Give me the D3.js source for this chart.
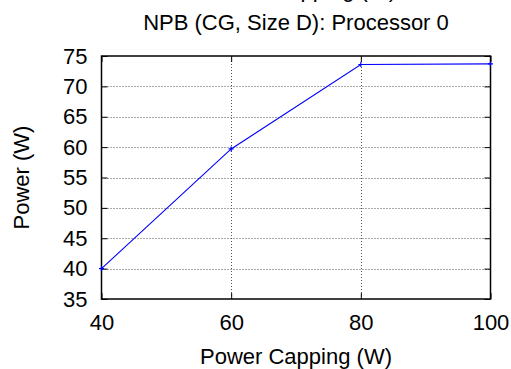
<!DOCTYPE html>
<html>
<head>
<meta charset="utf-8">
<script src="https://cdn.jsdelivr.net/npm/d3@7"></script>
<style>
  html, body { margin: 0; padding: 0; background: #fff; }
  svg { display: block; font-family: "Liberation Sans", Arial, Helvetica, sans-serif; }
</style>
</head>
<body>
<svg id="chart" width="511" height="369"></svg>
<script>
// Power draw of processor 0 under different power caps
const capValues = [40, 60, 80, 100];
const powerValues = [40.0, 59.7, 73.6, 73.7];
const xTicks = [40, 60, 80, 100];
const yTicks = [35, 40, 45, 50, 55, 60, 65, 70, 75];

const svg = d3.select("#chart");
const margin = { left: 101.5, right: 20.5, top: 56, bottom: 70 };
const W = 511, H = 369;
const FS = 22;

const x = d3.scaleLinear().domain([40, 100]).range([margin.left, W - margin.right]);
const y = d3.scaleLinear().domain([35, 75]).range([H - margin.bottom, margin.top]);

// Dotted grid
const grid = svg.append("g").attr("stroke", "#555").attr("stroke-width", 1)
  .attr("stroke-dasharray", "1,2");
grid.selectAll("line.gx").data(xTicks.slice(1, -1)).join("line")
  .attr("x1", d => Math.round(x(d)) + 0.5).attr("x2", d => Math.round(x(d)) + 0.5)
  .attr("y1", y(35)).attr("y2", y(75));
grid.selectAll("line.gy").data(yTicks.slice(1, -1)).join("line")
  .attr("y1", d => Math.round(y(d)) + 0.5).attr("y2", d => Math.round(y(d)) + 0.5)
  .attr("x1", x(40)).attr("x2", x(100));

// Axes with inward ticks, mirrored on the opposite sides
const tickLen = 6;
svg.append("g").attr("transform", `translate(0,${y(35)})`)
  .call(d3.axisBottom(x).tickValues(xTicks).tickSizeInner(-tickLen).tickSizeOuter(0).tickPadding(15))
  .call(g => g.select(".domain").remove());
svg.append("g").attr("transform", `translate(0,${y(75)})`)
  .call(d3.axisTop(x).tickValues(xTicks).tickSizeInner(-tickLen).tickSizeOuter(0).tickFormat(""))
  .call(g => g.select(".domain").remove());
svg.append("g").attr("transform", `translate(${x(40)},0)`)
  .call(d3.axisLeft(y).tickValues(yTicks).tickSizeInner(-tickLen).tickSizeOuter(0).tickPadding(14))
  .call(g => g.select(".domain").remove());
svg.append("g").attr("transform", `translate(${x(100)},0)`)
  .call(d3.axisRight(y).tickValues(yTicks).tickSizeInner(-tickLen).tickSizeOuter(0).tickFormat(""))
  .call(g => g.select(".domain").remove());

svg.selectAll(".tick text").attr("font-size", FS).attr("fill", "#000")
  .attr("font-family", "Liberation Sans, Arial, sans-serif");
svg.selectAll(".tick line").attr("stroke", "#000");

// Border
svg.append("rect")
  .attr("x", x(40)).attr("y", y(75))
  .attr("width", x(100) - x(40)).attr("height", y(35) - y(75))
  .attr("fill", "none").attr("stroke", "#000").attr("stroke-width", 1.5);

// Data line and points
const pts = capValues.map((c, i) => [c, powerValues[i]]);
svg.append("path")
  .datum(pts)
  .attr("fill", "none").attr("stroke", "#0000ff").attr("stroke-width", 1.1)
  .attr("d", d3.line().x(d => x(d[0])).y(d => y(d[1])));
svg.selectAll("path.pt").data(pts).join("path")
  .attr("class", "pt")
  .attr("d", d => `M${x(d[0]) - 2.5},${y(d[1])}h5M${x(d[0])},${y(d[1]) - 2.5}v5`)
  .attr("stroke", "#0000ff").attr("stroke-width", 1.2);

// Titles and axis labels (the upper heading sits mostly above the page edge)
svg.append("text").attr("x", 300).attr("y", -3.5).attr("text-anchor", "middle")
  .attr("font-size", FS).text("Power Capping (W)");
svg.append("text").attr("x", 296).attr("y", 30).attr("text-anchor", "middle")
  .attr("font-size", FS).text("NPB (CG, Size D): Processor 0");
svg.append("text").attr("x", 296).attr("y", 364).attr("text-anchor", "middle")
  .attr("font-size", FS).text("Power Capping (W)");
svg.append("text").attr("transform", `translate(29,${(y(35) + y(75)) / 2}) rotate(-90)`)
  .attr("text-anchor", "middle").attr("font-size", FS).text("Power (W)");
</script>
</body>
</html>
